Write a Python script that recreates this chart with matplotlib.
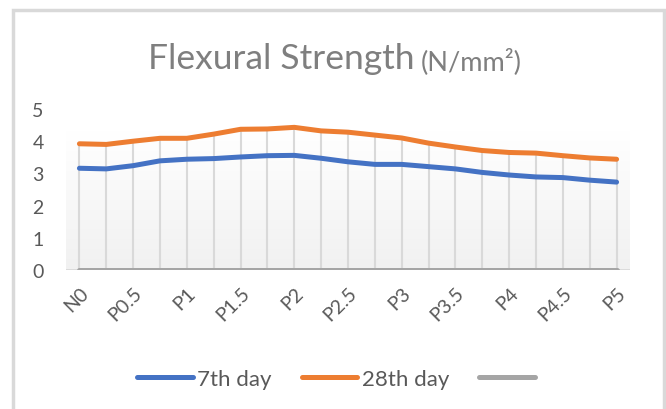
import numpy as np
import matplotlib
matplotlib.use("Agg")
import matplotlib.pyplot as plt
from matplotlib.patches import Rectangle

plt.rcParams['font.family'] = ['Lato', 'DejaVu Sans']

# 21 mixes, Excel only prints every other label
categories = ['N0', 'P0.25', 'P0.5', 'P0.75', 'P1', 'P1.25', 'P1.5', 'P1.75',
              'P2', 'P2.25', 'P2.5', 'P2.75', 'P3', 'P3.25', 'P3.5', 'P3.75',
              'P4', 'P4.25', 'P4.5', 'P4.75', 'P5']
day7 = [3.16, 3.14, 3.24, 3.39, 3.44, 3.46, 3.51, 3.55, 3.56, 3.47, 3.36,
        3.28, 3.28, 3.21, 3.14, 3.03, 2.95, 2.89, 2.87, 2.79, 2.73]
day28 = [3.92, 3.90, 4.00, 4.09, 4.09, 4.22, 4.37, 4.38, 4.43, 4.32, 4.28,
         4.19, 4.10, 3.94, 3.82, 3.71, 3.65, 3.63, 3.55, 3.48, 3.44]
third = [0] * 21

x = np.arange(len(categories))

fig = plt.figure(figsize=(6.66, 4.10), dpi=100)
ax = fig.add_axes([66 / 666, 139 / 410, 564 / 666, 161 / 410])

# chart border
fig.patches.append(Rectangle((13 / 666, -0.05), 651 / 666, 1.05 - 11 / 410,
                             transform=fig.transFigure, fill=False,
                             edgecolor='#d9d9d9', linewidth=2.5))

# gradient plot background
grad = np.linspace(0, 1, 100).reshape(-1, 1)
ax.imshow(grad, cmap=matplotlib.colors.LinearSegmentedColormap.from_list(
    'g', ['#f1f1f1', '#ffffff']), origin='lower', aspect='auto',
    extent=(-0.5, 20.5, 0, 4.32), zorder=0)

# drop lines
ax.vlines(x, 0, day28, color='#d9d9d9', linewidth=1.5, zorder=1)
ax.plot([-0.5, 20.5], [0, 0], color='#d9d9d9', linewidth=2, zorder=1)

ax.plot(x, day7, color='#4472C4', linewidth=3.6, solid_capstyle='round',
        label='7th day', zorder=3)
ax.plot(x, day28, color='#ED7D31', linewidth=3.6, solid_capstyle='round',
        label='28th day', zorder=3)
ax.plot(x, third, color='#A5A5A5', linewidth=3.6, solid_capstyle='round',
        label=' ', zorder=2)

ax.set_xlim(-0.5, 20.5)
ax.set_ylim(0, 5)
ax.set_yticks(range(6))
ax.set_xticks(x[::2])
ax.set_xticklabels(categories[::2], rotation=45, ha='right',
                   rotation_mode='anchor')
ax.tick_params(axis='both', length=0, labelsize=14, colors='#595959')
ax.tick_params(axis='x', pad=10)
ax.tick_params(axis='y', pad=16)
for s in ax.spines.values():
    s.set_visible(False)
ax.set_facecolor('none')

fig.text(148 / 666, 0.855, 'Flexural Strength', ha='left', va='center',
         fontsize=25.5, color='#7f7f7f')
fig.text(421 / 666, 0.851, '(N/mm²)', ha='left', va='center',
         fontsize=19.5, color='#7f7f7f')

ax.legend(loc='center', bbox_to_anchor=(341 / 666, 30 / 410),
          bbox_transform=fig.transFigure, ncol=3, frameon=False,
          fontsize=16, handlelength=2.5, handletextpad=0.2,
          columnspacing=1.35, labelcolor='#595959')

fig.savefig('out.png', dpi=100)
